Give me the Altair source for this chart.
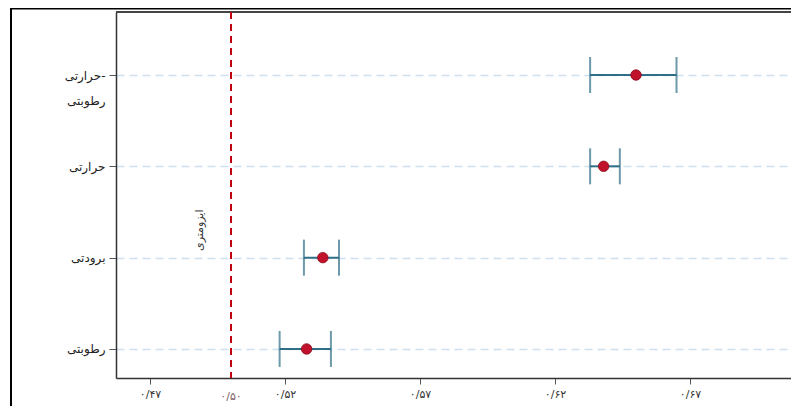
import altair as alt
import pandas as pd
import json

# ---- data ----
categories = ["حرارتی-رطوبتی", "حرارتی", "برودتی", "رطوبتی"]   # top to bottom
label_lines = [["حرارتی-", "رطوبتی"], ["حرارتی"], ["برودتی"], ["رطوبتی"]]
means = [0.650, 0.638, 0.534, 0.528]
lows = [0.633, 0.633, 0.527, 0.518]
highs = [0.665, 0.644, 0.540, 0.537]
positions = [4, 3, 2, 1]

x_ticks = [0.47, 0.52, 0.57, 0.62, 0.67]
ref_value = 0.50
ref_label = "ایزومتری"

persian_digits = "۰۱۲۳۴۵۶۷۸۹"
def to_fa(v):
    s = f"{v:.2f}".replace(".", "/")
    return "".join(persian_digits[int(c)] if c.isdigit() else c for c in s)

df = pd.DataFrame({"cat": categories, "pos": positions, "mean": means, "low": lows, "high": highs})

W, H = 675, 366
xdom = [0.4574, 0.4574 + W / 2700]
ydom = [0.682, 4.69]

# label expressions built from the lists
xmap = {f"{t:.2f}": to_fa(t) for t in x_ticks}
x_expr = "(" + json.dumps(xmap, ensure_ascii=False) + ")[format(datum.value, '.2f')]"
ymap = {str(p): l for p, l in zip(positions, label_lines)}
y_expr = "(" + json.dumps(ymap, ensure_ascii=False) + ")[format(datum.value, 'd')]"

xscale = alt.Scale(domain=xdom, nice=False, zero=False)
yscale = alt.Scale(domain=ydom, nice=False, zero=False)

base = alt.Chart(df)

x_axis = alt.Axis(values=x_ticks, labelExpr=x_expr, title=None, grid=False,
                  domainColor="#333333", domainWidth=1.5, tickColor="#555555",
                  tickSize=6, labelPadding=4, labelFontSize=11, labelColor="#333333")
y_axis = alt.Axis(values=positions, labelExpr=y_expr, title=None, grid=True,
                  gridColor="#cfe0ee", gridDash=[8, 5], gridWidth=1.5,
                  domainColor="#333333", domainWidth=1.5, tickColor="#555555",
                  tickSize=7, labelPadding=4, labelFontSize=12, labelColor="#222222",
                  labelLineHeight=25)

rules = base.mark_rule(color="#2f6f86", strokeWidth=2).encode(
    x=alt.X("low:Q", scale=xscale, axis=x_axis),
    x2="high:Q",
    y=alt.Y("pos:Q", scale=yscale, axis=y_axis),
)
cap_lo = base.mark_tick(color="#2f6f86", thickness=2, size=36, orient="vertical").encode(
    x=alt.X("low:Q", scale=xscale), y=alt.Y("pos:Q", scale=yscale))
cap_hi = base.mark_tick(color="#2f6f86", thickness=2, size=36, orient="vertical").encode(
    x=alt.X("high:Q", scale=xscale), y=alt.Y("pos:Q", scale=yscale))
points = base.mark_point(filled=True, size=110, color="#c0122a", opacity=1,
                         stroke="#8a0a1a", strokeWidth=0.8).encode(
    x=alt.X("mean:Q", scale=xscale), y=alt.Y("pos:Q", scale=yscale))

ref_df = pd.DataFrame({"x": [ref_value], "lab": [ref_label], "tick": [to_fa(ref_value)],
                       "ty": [2.3], "tx": [0.4885]})
ref_rule = alt.Chart(ref_df).mark_rule(color="#c00010", strokeWidth=2, strokeDash=[7, 5]).encode(
    x=alt.X("x:Q", scale=xscale))
ref_text = alt.Chart(ref_df).mark_text(angle=270, fontSize=11, color="#333333",
                                       font="DejaVu Sans").encode(
    x=alt.X("tx:Q", scale=xscale), y=alt.Y("ty:Q", scale=yscale), text="lab:N")
ref_tick_label = alt.Chart(ref_df).mark_text(fontSize=11, color="#806068", baseline="middle").encode(
    x=alt.X("x:Q", scale=xscale), y=alt.value(H + 19), text="tick:N")

top_line = alt.Chart(ref_df).mark_rule(color="#444444", strokeWidth=2).encode(
    x=alt.value(0), x2=alt.value(W), y=alt.value(0))
outer = alt.Chart(ref_df).mark_rect(fill=None, stroke="#000000", strokeWidth=2, clip=False).encode(
    x=alt.value(-105), x2=alt.value(W + 20), y=alt.value(-3.5), y2=alt.value(H + 60))

chart = alt.layer(outer, top_line, rules, cap_lo, cap_hi, ref_rule, points, ref_text, ref_tick_label).properties(
    width=W, height=H,
    autosize=alt.AutoSizeParams(type="none"),
    padding={"left": 108, "top": 4, "right": 0, "bottom": 28},
).configure_view(stroke=None).configure(font="DejaVu Sans")

chart.save("out.html", embed_options={"renderer": "svg", "actions": False})
